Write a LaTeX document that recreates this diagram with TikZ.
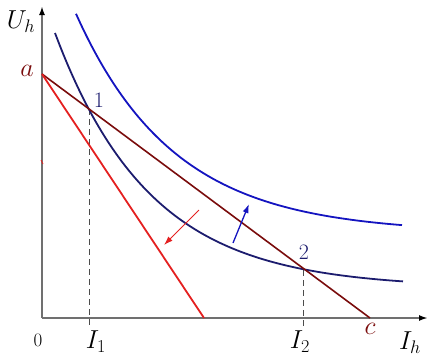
\RequirePackage{fix-cm}
\documentclass[tikz,border=0pt]{standalone}
\usetikzlibrary{arrows.meta}
\definecolor{axisgray}{HTML}{707070}
\definecolor{brownline}{HTML}{7A0C0C}
\definecolor{redline}{HTML}{E42020}
\definecolor{navy}{HTML}{1C1C6E}
\definecolor{blueline}{HTML}{1414C0}
\begin{document}
\begin{tikzpicture}[x=1pt,y=-1pt,
  axis/.style={axisgray,line width=2pt,-{Latex[length=9pt,width=6pt,black]}},
  curve/.style={line width=1.8pt},
  guide/.style={black!70,line width=0.6pt,dash pattern=on 6pt off 4pt},
  lbl/.style={inner sep=0pt,font=\fontsize{22}{24}\selectfont},
  big/.style={font=\fontsize{26}{28}\selectfont},
  shiftarrow/.style={line width=1.3pt,-{Latex[length=9pt,width=6pt]}}]
\useasboundingbox (0,0) rectangle (432,359);
% axes
\coordinate (O) at (42,318);
\coordinate (xend) at (428,318);
\coordinate (yend) at (42,6);
\draw[axis] (O) -- (xend);
\draw[axis] (O) -- (yend);
% key points
\coordinate (a) at (42,74);
\coordinate (c) at (370,318);
\coordinate (r) at (204,318);
\coordinate (p1) at (89,109);
\coordinate (p2) at (303,270);
\coordinate (f1) at (89,326);
\coordinate (f2) at (303,326);
% dashed guides
\draw[guide] (p1) -- (f1);
\draw[guide] (p2) -- (f2);
% curves
\draw[curve,blueline] plot[domain=76:402,samples=80,smooth] (\x,{318-(85+226*exp(-0.0102*(\x-73)))});
\draw[curve,navy] plot[domain=55:403,samples=80,smooth] (\x,{318-(30+255*exp(-0.0105*(\x-55)))});
% lines
\draw[curve,brownline,line width=1.6pt] (a) -- (c);
\draw[curve,redline] (a) -- (r);
% tiny tick
\draw[redline,line width=0.8pt] (41,160) -- (43,164);
% shift arrows
\coordinate (bt) at (233,243);
\coordinate (bh) at (249,204);
\draw[shiftarrow,blueline] (bt) -- (bh);
\coordinate (rt) at (199,210);
\coordinate (rh) at (164,245);
\draw[shiftarrow,redline,line width=1pt] (rt) -- (rh);
% labels
\node[lbl,big] (Uh) at (21,22) {$U_h$};
\node[lbl,big,text=brownline] (la) at (27,71) {$a$};
\node[lbl,text=navy] (l1) at (99,100) {$1$};
\node[lbl,text=navy] (l2) at (304,252) {$2$};
\node[lbl,font=\fontsize{19}{22}\selectfont] (l0) at (38,340) {$0$};
\node[lbl,big] (lI1) at (96,342) {$I_1$};
\node[lbl,big] (lI2) at (300,342) {$I_2$};
\node[lbl,big,text=brownline] (lc) at (370,329) {$c$};
\node[lbl,big] (lIh) at (410,343) {$I_h$};
\end{tikzpicture}
\end{document}
